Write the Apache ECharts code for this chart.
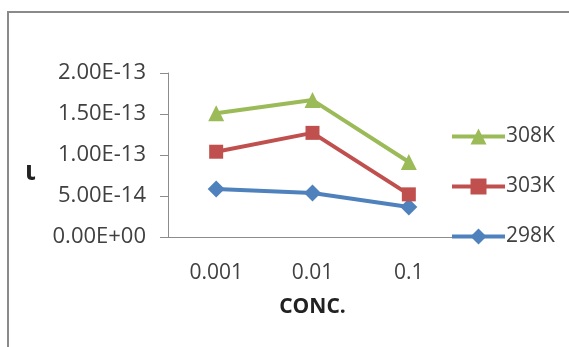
<!DOCTYPE html>
<html>
<head>
<meta charset="utf-8">
<script src="https://cdn.jsdelivr.net/npm/echarts@6/dist/echarts.min.js"></script>
<style>
  html, body { margin: 0; padding: 0; background: #fff; }
  #chart { width: 569px; height: 347px; }
</style>
</head>
<body>
<div id="chart"></div>
<script>
// Concentration categories and current values per temperature
const categories = ['0.001', '0.01', '0.1'];
const s308K = [1.51e-13, 1.67e-13, 0.915e-13];
const s303K = [1.04e-13, 1.27e-13, 0.52e-13];
const s298K = [0.585e-13, 0.537e-13, 0.366e-13];
const legendOrder = ['308K', '303K', '298K'];

const FONT = '"Open Sans", "Liberation Sans", sans-serif';
const TEXT = '#404040';

// Excel-style scientific label, e.g. 2.00E-13 / 0.00E+00
function sci(v) {
  let s = Number(v).toExponential(2).toUpperCase();
  return s.replace(/E([+-])(\d)$/, 'E$10$2');
}

const chart = echarts.init(document.getElementById('chart'), null, { renderer: 'canvas' });

function lineSeries(name, data, color, symbol, size) {
  return {
    name: name,
    type: 'line',
    data: data,
    symbol: symbol,
    symbolSize: size,
    showAllSymbol: true,
    lineStyle: { color: color, width: 4 },
    itemStyle: { color: color },
    emphasis: { disabled: true },
    z: 3
  };
}

chart.setOption({
  animation: false,
  backgroundColor: '#fff',
  grid: { left: 168, right: 112, top: 73, bottom: 110 },
  legend: {
    data: legendOrder,
    orient: 'vertical',
    left: 445,
    top: 121,
    itemWidth: 53,
    itemHeight: 20,
    itemGap: 29,
    lineStyle: { width: 4 },
    textStyle: { fontFamily: FONT, fontSize: 21, color: TEXT, padding: [0, 0, 0, -4] },
    selectedMode: false
  },
  xAxis: {
    type: 'category',
    data: categories,
    boundaryGap: true,
    name: 'CONC.',
    nameLocation: 'middle',
    nameGap: 60,
    nameTextStyle: { fontFamily: FONT, fontSize: 21, fontWeight: 'bold', color: '#222' },
    axisLine: { lineStyle: { color: '#8c8c8c', width: 1 } },
    axisTick: { alignWithLabel: true, length: 7, lineStyle: { color: '#8c8c8c' } },
    axisLabel: { fontFamily: FONT, fontSize: 21, color: TEXT, margin: 26 }
  },
  yAxis: {
    type: 'value',
    min: 0,
    max: 2e-13,
    interval: 5e-14,
    axisLine: { show: true, lineStyle: { color: '#8c8c8c', width: 1 } },
    axisTick: { show: true, length: 8, lineStyle: { color: '#8c8c8c' } },
    splitLine: { show: false },
    axisLabel: { fontFamily: FONT, fontSize: 22, color: TEXT, margin: 22, formatter: sci }
  },
  graphic: [
    { type: 'line', shape: { x1: 7, y1: 12, x2: 569, y2: 12 }, style: { stroke: '#8a8a8a', lineWidth: 2 } },
    { type: 'line', shape: { x1: 8, y1: 12, x2: 8, y2: 347 }, style: { stroke: '#8a8a8a', lineWidth: 2 } },
    // y-axis symbol
    { type: 'text', left: 25, top: 160,
      style: { text: 'ι', fontFamily: FONT, fontSize: 26, fontWeight: 'bold', fill: '#222' } }
  ],
  series: [
    lineSeries('298K', s298K, '#4F81BD', 'diamond', 17),
    lineSeries('303K', s303K, '#C0504D', 'rect', 14),
    lineSeries('308K', s308K, '#9BBB59', 'triangle', 16)
  ]
});
</script>
</body>
</html>
